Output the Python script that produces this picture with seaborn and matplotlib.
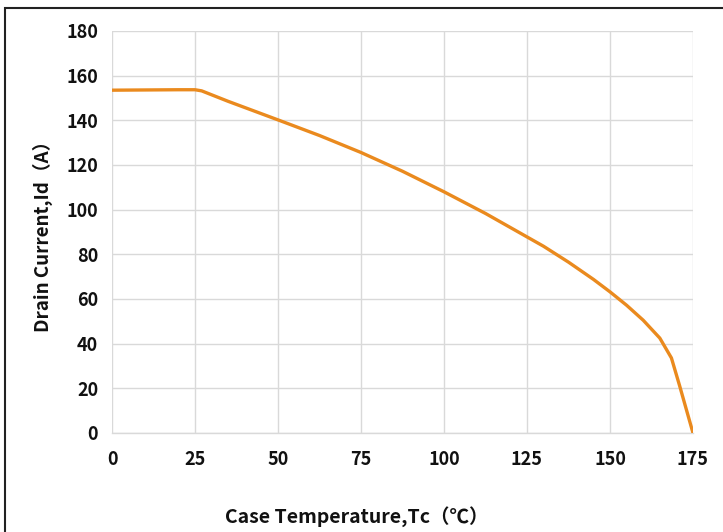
import matplotlib
matplotlib.use("Agg")
import matplotlib.pyplot as plt
import seaborn as sns
import pandas as pd
from matplotlib.patches import Rectangle

# Drain current derating vs. case temperature
case_temp = [0, 10, 20, 25, 27, 35, 50, 62.5, 75, 87.5, 100, 112.5, 125, 130, 137.5, 145, 150, 155, 160, 165, 168.5, 171, 175]
drain_current = [153.5, 153.6, 153.7, 153.7, 153.2, 148.5, 140.2, 133.2, 125.6, 117.2, 108.0, 98.3, 87.8, 83.6, 76.5, 68.8, 63.2, 57.2, 50.5, 42.5, 33.6, 21.0, 0.0]

x_ticks = [0, 25, 50, 75, 100, 125, 150, 175]
y_ticks = [0, 20, 40, 60, 80, 100, 120, 140, 160, 180]

df = pd.DataFrame({"Tc": case_temp, "Id": drain_current})

sns.set_style("white")
plt.rcParams["font.family"] = ["Noto Sans CJK SC", "DejaVu Sans"]

fig = plt.figure(figsize=(7.23, 5.32), dpi=100)
ax = fig.add_axes([112 / 723, 1 - 433 / 532, (693 - 112) / 723, (433 - 31) / 532])

sns.lineplot(data=df, x="Tc", y="Id", ax=ax, color="#EA8A1E", linewidth=2.4, zorder=3)

ax.set_xlim(0, 175)
ax.set_ylim(0, 180)
ax.set_xticks(x_ticks)
ax.set_yticks(y_ticks)
ax.grid(True, color="#D9D9D9", linewidth=1.0)
for side in ["top", "right", "left"]:
    ax.spines[side].set_visible(False)
ax.spines["bottom"].set_color("#D9D9D9")
ax.spines["bottom"].set_linewidth(1.0)
ax.tick_params(axis="both", length=0, labelsize=13, colors="#111111")
ax.tick_params(axis="x", pad=12)
ax.tick_params(axis="y", pad=10)
for lbl in ax.get_xticklabels() + ax.get_yticklabels():
    lbl.set_fontweight("bold")

ax.set_xlabel("Case Temperature,Tc（℃）", fontsize=14, fontweight="bold", color="#111111")
ax.set_ylabel("Drain Current,Id（A）", fontsize=13.5, fontweight="bold", color="#111111")
ax.xaxis.label.set_va("center")
ax.yaxis.label.set_va("center")
ax.xaxis.set_label_coords((357 - 112) / (693 - 112), -(517 - 433) / (433 - 31))
ax.yaxis.set_label_coords(-(112 - 43) / (693 - 112), 0.5)

# outer frame around the chart
fig.patches.append(Rectangle((5 / 723, -0.1), 1.2, 1 - 8 / 532 + 0.1,
                             transform=fig.transFigure, fill=False,
                             edgecolor="#222222", linewidth=1.5))

fig.savefig("out.png", dpi=100)
